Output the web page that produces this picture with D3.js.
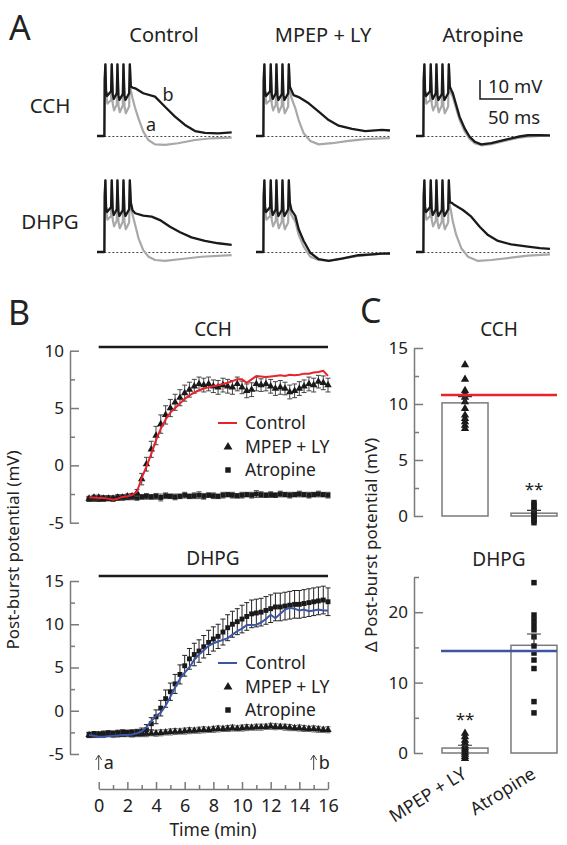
<!DOCTYPE html>
<html><head><meta charset="utf-8">
<script src="https://cdn.jsdelivr.net/npm/d3@7/dist/d3.min.js"></script>
<style>
html,body{margin:0;padding:0;background:#fff}
svg text{font-family:'Noto Sans','Open Sans',sans-serif;fill:#222}
</style></head><body>
<svg id="fig" width="567" height="845"></svg>
<script>
// ---------------- Panel A data (ms, mV relative to baseline) ----------------
const burstBlack = [[0,0],[11,0],[11.5,30],[12.5,37.7],[13.5,24],[15,21],[21,23.5],[22,37.7],[23.5,22],[25,19.5],[29.5,22.5],[30.5,37.7],[32,21.5],[33.5,19],[38.5,22],[39.5,37.7],[41,21.5],[42.5,19],[48,22.5],[49,37.7],[50.5,26]];
const burstGray  = [[0,0],[11,0],[11.5,28],[12.5,37.7],[13.5,22],[15.5,17],[21,19],[22,37.7],[23.5,17],[25.5,13.5],[29.5,16.5],[30.5,37.7],[32,16],[34,12.5],[38.5,16],[39.5,37.7],[41,15.5],[43,12],[48,15.5],[49,37.7],[50.5,24]];
const cchCtrlBlack = [[53,25.5],[57,25.1],[69,22.5],[86.6,20.7],[101.5,15.4],[116.4,10.2],[131.3,5.8],[146.3,2.6],[161,1.6],[180.6,1.4],[201,1.9]];
const cchCtrlGray  = [[53,20],[56.7,15],[61.6,9.5],[69.1,2.3],[76.6,-2.1],[86.6,-4.4],[101.5,-4.7],[120.9,-3.8],[146.3,-2.1],[171.2,-1.2],[201,-0.9]];
const cchMpepBlack = [[53,24],[56,21.5],[63.7,20.5],[78.7,17.2],[93.6,12.8],[108.5,8.4],[123.4,5.4],[143.3,3.7],[163.1,2.6],[188,3.2],[200,2.9]];
const cchMpepGray  = [[53,20],[58.7,14.6],[63.7,8.4],[71.2,1.4],[81,-2.6],[93.6,-4.4],[113.4,-3.8],[138.4,-2.6],[163.1,-1.6],[188,-1.2],[200,-1.1]];
const cchAtrBlack  = [[53,24],[55,22.5],[60,16.3],[65,10.2],[72.6,4],[80,-0.4],[87.6,-3],[97.5,-4.4],[112.4,-3.8],[132.4,-2.1],[152,-0.4],[167,0.4],[185,0.4],[200,0.3]];
const cchAtrGray   = [[53,22],[55,20.5],[60,14.5],[65,8.5],[72.6,2.5],[80,-1.5],[87.6,-3.8],[97.5,-4.9],[112.4,-4.3],[132.4,-2.6],[152,-1],[167,-0.3],[185,0],[200,0]];
const dhpgCtrlBlack = [[53,22],[57,20.4],[69,19.1],[81.6,18.6],[94,16.8],[109,13.3],[124,10.4],[141,7.7],[161,5.8],[181,4.6],[201,3.7]];
const dhpgCtrlGray  = [[52,21.2],[57,14.2],[62,7.2],[69,1.0],[77,-2.5],[86.6,-4.2],[101.5,-4.7],[126,-3.7],[156,-2.5],[201,-1.6]];
const dhpgMpepBlack = [[53,22],[58.7,19],[63.7,12],[71.2,5.8],[81,-0.4],[93.6,-3.8],[108.5,-4.7],[128,-3.5],[153,-1.7],[173,-1.2],[188,-0.9],[200,-0.8]];
const dhpgMpepGray  = [[52,20],[58.7,16],[63.7,9],[71.2,2.8],[81,-2.5],[93.6,-4.2],[108.5,-4.6],[128,-3.5],[153,-2],[188,-0.9],[200,-0.8]];
const dhpgAtrBlack  = [[53,26],[57.7,24.7],[70,22.1],[82.5,18.6],[95,13.3],[107.5,8.9],[122.4,5.8],[142,4.0],[167,2.8],[185,2.0],[200,1.6]];
const dhpgAtrGray   = [[52,22],[55,16],[60,9],[67.6,2],[77.6,-2.5],[92.5,-4.7],[112.4,-4.2],[142,-3],[167,-1.9],[200,-1.3]];
const colTitles = ['Control','MPEP + LY','Atropine'];
const rowTitles = ['CCH','DHPG'];

// ---------------- Panel B data ----------------
const times = [-0.67,-0.33,0,0.33,0.67,1,1.33,1.67,2,2.33,
 2.67,3,3.33,3.67,4,4.33,4.67,5,5.33,5.67,
 6,6.33,6.67,7,7.33,7.67,8,8.33,8.67,9,
 9.33,9.67,10,10.33,10.67,11,11.33,11.67,12,12.33,
 12.67,13,13.33,13.67,14,14.33,14.67,15,15.33,15.67,16];
const cchControl = [-2.8,-2.8,-2.85,-2.85,-2.9,-3.0,-2.9,-2.75,-2.7,-2.6,
 -2.3,-1.1,-0.1,1.0,2.2,3.2,4.0,4.6,5.0,5.4,
 5.8,6.1,6.35,6.55,6.7,6.8,6.9,7.0,7.1,7.2,
 7.35,7.5,7.5,7.2,7.5,7.8,7.75,7.7,7.75,7.8,
 7.85,7.8,7.9,7.85,7.9,8.0,8.0,8.1,8.15,8.25,7.8];
const cchMpep = [-2.9,-2.8,-2.8,-2.9,-2.9,-2.9,-2.8,-2.8,-2.7,-2.7,
 -2.4,-1.2,0.1,1.4,2.6,3.6,4.4,5.0,5.5,5.9,
 6.3,6.6,6.9,7.1,7.0,7.1,6.9,6.8,7.0,6.9,
 6.8,7.1,6.8,6.5,6.6,7.1,7.0,7.1,6.9,6.7,
 6.8,6.7,6.4,6.5,6.7,6.9,7.1,7.0,7.3,7.2,7.0];
const cchMpepErr = [0.2,0.2,0.2,0.25,0.2,0.2,0.25,0.2,0.2,0.25,
 0.3,0.5,0.6,0.7,0.8,0.8,0.8,0.75,0.7,0.7,
 0.7,0.65,0.6,0.6,0.6,0.6,0.55,0.6,0.6,0.6,
 0.6,0.6,0.55,0.6,0.6,0.6,0.55,0.6,0.6,0.6,
 0.6,0.55,0.6,0.6,0.6,0.55,0.6,0.6,0.55,0.6,0.6];
const cchAtr = [-2.95,-2.9,-2.95,-2.9,-2.85,-2.9,-2.85,-2.8,-2.8,-2.75,
 -2.8,-2.75,-2.7,-2.75,-2.7,-2.8,-2.65,-2.7,-2.75,-2.7,
 -2.6,-2.7,-2.65,-2.6,-2.7,-2.6,-2.65,-2.7,-2.6,-2.55,
 -2.6,-2.65,-2.6,-2.55,-2.6,-2.5,-2.55,-2.6,-2.55,-2.6,
 -2.5,-2.55,-2.6,-2.55,-2.5,-2.55,-2.6,-2.55,-2.5,-2.55,-2.6];
const cchAtrErr = [0.2,0.25,0.2,0.25,0.2,0.25,0.2,0.25,0.2,0.25,
 0.25,0.2,0.25,0.2,0.25,0.3,0.25,0.2,0.25,0.2,
 0.25,0.2,0.25,0.3,0.25,0.2,0.25,0.2,0.25,0.2,
 0.25,0.2,0.25,0.2,0.25,0.3,0.25,0.2,0.25,0.2,
 0.25,0.2,0.25,0.2,0.25,0.2,0.25,0.2,0.25,0.2,0.25];
const dhpgControl = [-2.8,-2.9,-3.0,-3.0,-2.95,-2.9,-2.85,-2.8,-2.8,-2.75,
 -2.6,-2.4,-1.9,-1.2,-0.6,-0.2,0.6,1.6,2.7,3.7,
 4.4,5.0,5.9,6.5,7.0,7.5,7.8,8.0,8.2,8.4,
 8.8,9.2,9.5,9.9,9.9,9.95,10.2,10.6,11.1,10.7,
 11.2,11.7,11.9,11.8,11.6,11.7,11.5,11.6,11.7,11.6,11.6];
const dhpgMpep = [-2.8,-2.85,-2.8,-2.8,-2.75,-2.8,-2.75,-2.75,-2.7,-2.75,
 -2.7,-2.7,-2.65,-2.6,-2.6,-2.55,-2.5,-2.45,-2.4,-2.4,
 -2.35,-2.3,-2.3,-2.25,-2.2,-2.2,-2.15,-2.1,-2.1,-2.05,
 -2.0,-2.05,-2.0,-1.95,-1.95,-1.9,-1.9,-1.85,-1.8,-1.85,
 -1.85,-1.9,-1.95,-2.0,-2.0,-2.05,-2.1,-2.1,-2.15,-2.2,-2.2];
const dhpgMpepErr = [0.3,0.25,0.3,0.3,0.25,0.3,0.3,0.25,0.3,0.3,
 0.3,0.3,0.35,0.3,0.35,0.35,0.3,0.35,0.35,0.3,
 0.35,0.35,0.3,0.35,0.35,0.3,0.35,0.35,0.3,0.35,
 0.35,0.3,0.35,0.35,0.3,0.35,0.35,0.3,0.35,0.35,
 0.3,0.35,0.35,0.3,0.35,0.35,0.3,0.35,0.35,0.3,0.35];
const dhpgAtr = [-2.8,-2.7,-2.7,-2.65,-2.6,-2.6,-2.55,-2.5,-2.5,-2.5,
 -2.45,-2.4,-2.2,-1.5,-0.7,0.3,1.4,2.2,3.1,4.2,
 5.2,6.0,6.5,6.9,7.4,7.9,8.3,8.6,9.1,9.6,
 10.0,10.3,10.6,10.9,11.2,11.3,11.4,11.6,11.8,12.0,
 12.0,12.1,12.2,12.3,12.3,12.4,12.5,12.6,12.7,12.8,12.6];
const dhpgAtrErr = [0.3,0.3,0.25,0.3,0.3,0.25,0.3,0.3,0.25,0.3,
 0.3,0.4,0.6,0.7,0.8,0.9,1.0,1.0,1.1,1.1,
 1.2,1.2,1.3,1.3,1.3,1.4,1.4,1.4,1.5,1.5,
 1.5,1.5,1.6,1.6,1.6,1.6,1.6,1.6,1.6,1.6,
 1.6,1.6,1.6,1.6,1.6,1.6,1.6,1.6,1.6,1.6,1.6];
const timeTicks = [0,2,4,6,8,10,12,14,16];
const timeMinor = [1,3,5,7,9,11,13,15];
const arrowTimes = [0,15];
const arrowLabels = ['a','b'];
const legendLabels = ['Control','MPEP + LY','Atropine'];

// ---------------- Panel C data ----------------
const groups = ['MPEP + LY','Atropine'];
const cchMpepPts = [13.5,12.2,11.2,10.9,10.6,10.2,9.6,9.0,8.7,8.4,8.1,7.8];
const cchAtrPts  = [1.2,1.0,0.7,0.5,0.3,0.1,0,-0.2,-0.4,-0.6];
const cchMeans = [10.1,0.25];
const cchSem = [0.55,0.25];
const cchControlMean = 10.8;
const dhpgMpepPts = [2.8,2.3,1.8,1.4,1.0,0.7,0.4,0.1,-0.2,-0.5,-0.8];
const dhpgAtrPts  = [24.2,19.6,18.9,18.2,17.5,16.5,15.2,14.2,13.2,12.0,7.3,5.7];
const dhpgMeans = [0.7,15.3];
const dhpgSem = [0.4,1.6];
const dhpgControlMean = 14.5;

// ---------------- drawing ----------------
const svg = d3.select('#fig');
const FONT = "'Noto Sans','Open Sans',sans-serif";
const AX = '#7a7a7a', INK = '#1a1a1a', RED = '#e8232b', BLUE = '#3c55a5';

function txt(x, y, s, size, anchor, extra) {
  const t = svg.append('text').attr('x', x).attr('y', y).text(s)
    .attr('font-size', size).attr('text-anchor', anchor || 'start');
  if (extra) extra(t);
  return t;
}

// Panel letters
txt(9, 40, 'A', 34);
txt(8, 325, 'B', 34);
txt(360, 323, 'C', 34);

// ---- Panel A ----
const colX = [97, 256, 416];
const rowBase = [136, 252];
const traceW = 134;
const traceSets = [
  {r:0,c:0,b:cchCtrlBlack,g:cchCtrlGray},{r:0,c:1,b:cchMpepBlack,g:cchMpepGray},{r:0,c:2,b:cchAtrBlack,g:cchAtrGray},
  {r:1,c:0,b:dhpgCtrlBlack,g:dhpgCtrlGray},{r:1,c:1,b:dhpgMpepBlack,g:dhpgMpepGray},{r:1,c:2,b:dhpgAtrBlack,g:dhpgAtrGray}];
colTitles.forEach((s,i)=>txt(colX[i]+traceW/2, 42, s, 20, 'middle'));
rowTitles.forEach((s,i)=>txt(50, rowBase[i]-23, s, 20.5, 'middle'));
traceSets.forEach(ts=>{
  const x = d3.scaleLinear().domain([0,200]).range([colX[ts.c], colX[ts.c]+traceW]);
  const y = d3.scaleLinear().domain([0,10]).range([rowBase[ts.r], rowBase[ts.r]-19]);
  svg.append('line').attr('x1', x(11)).attr('x2', x(200)).attr('y1', y(0)+0.5).attr('y2', y(0)+0.5)
    .attr('stroke','#444').attr('stroke-width',1).attr('stroke-dasharray','2,2');
  const ln = d3.line().x(d=>x(d[0])).y(d=>y(d[1]));
  svg.append('path').datum(burstGray.concat(ts.g)).attr('d', ln).attr('fill','none')
    .attr('stroke','#a8a8a8').attr('stroke-width',2.2).attr('stroke-linejoin','round');
  svg.append('path').datum(burstBlack.concat(ts.b)).attr('d', ln).attr('fill','none')
    .attr('stroke',INK).attr('stroke-width',2.3).attr('stroke-linejoin','round');
});
txt(168, 101, 'b', 18, 'middle');
txt(151, 131, 'a', 18, 'middle');
// scale bar
svg.append('path').attr('d','M480,80V99H513').attr('fill','none').attr('stroke',INK).attr('stroke-width',1.5);
txt(488, 93, '10 mV', 18.5);
txt(488, 124, '50 ms', 18.5);

// ---- Panel B ----
const xB = d3.scaleLinear().domain([0,16]).range([98.7, 328]);
const yB1 = d3.scaleLinear().domain([-5,10]).range([522.7, 350.7]);
const yB2 = d3.scaleLinear().domain([-5,15]).range([754, 581]);

function styleAxis(g) {
  g.attr('font-family', FONT).attr('font-size', 17);
  g.selectAll('.domain').attr('stroke', AX).attr('stroke-width', 1.5);
  g.selectAll('.tick line').attr('stroke', AX).attr('stroke-width', 1.5);
  g.selectAll('.tick text').attr('fill', '#222');
}
function yAxis(scale, major, minor, x) {
  const g = svg.append('g').attr('transform', `translate(${x},0)`)
    .call(d3.axisLeft(scale).tickValues(major).tickSizeInner(-9).tickSizeOuter(0).tickPadding(6).tickFormat(d=>String(d)));
  styleAxis(g);
  const g2 = svg.append('g').attr('transform', `translate(${x},0)`)
    .call(d3.axisLeft(scale).tickValues(minor).tickSizeInner(-5).tickSizeOuter(0).tickFormat(''));
  styleAxis(g2); g2.select('.domain').remove();
}
yAxis(yB1, [-5,0,5,10], [-2.5,2.5,7.5], 70);
yAxis(yB2, [-5,0,5,10,15], [-2.5,2.5,7.5,12.5], 70);
{
  const g = svg.append('g').attr('transform','translate(0,789)')
    .call(d3.axisBottom(xB).tickValues(timeTicks).tickSizeInner(-7).tickSizeOuter(0).tickPadding(10).tickFormat(d=>String(d)));
  styleAxis(g);
  g.selectAll('.tick text').attr('font-size', 18);
  const g2 = svg.append('g').attr('transform','translate(0,789)')
    .call(d3.axisBottom(xB).tickValues(timeMinor).tickSizeInner(-4).tickSizeOuter(0).tickFormat(''));
  styleAxis(g2); g2.select('.domain').remove();
}
txt(213, 836, 'Time (min)', 17.5, 'middle');
txt(19, 550, 'Post-burst potential (mV)', 17, 'middle', t=>t.attr('transform','rotate(-90,19,550)'));

// drug bars & titles
[[347, 336, 'CCH'], [576, 565, 'DHPG']].forEach(([yl, yt, s])=>{
  svg.append('line').attr('x1', xB(0)).attr('x2', xB(16)).attr('y1', yl).attr('y2', yl)
    .attr('stroke', INK).attr('stroke-width', 2.5);
  txt(213, yt, s, 19, 'middle');
});

const tri = d3.symbol().type(d3.symbolTriangle).size(24);
const sq = d3.symbol().type(d3.symbolSquare).size(24);

function errBars(vals, errs, y, color) {
  const g = svg.append('g').attr('stroke', color).attr('stroke-width', 1).attr('fill','none');
  vals.forEach((v,i)=>{
    const x = xB(times[i]);
    g.append('path').attr('d', `M${x},${y(v-errs[i])}V${y(v+errs[i])}M${x-2.5},${y(v+errs[i])}h5M${x-2.5},${y(v-errs[i])}h5`);
  });
}
function markers(vals, y, sym) {
  svg.append('g').selectAll('path').data(vals).join('path')
    .attr('d', sym).attr('transform', (v,i)=>`translate(${xB(times[i])},${y(v)})`).attr('fill', INK);
}
function ctrlLine(vals, y, color) {
  svg.append('path').datum(vals).attr('fill','none').attr('stroke', color).attr('stroke-width', 2)
    .attr('d', d3.line().x((v,i)=>xB(times[i])).y(v=>y(v)));
}
// top (CCH)
errBars(cchAtr, cchAtrErr, yB1, '#555');
markers(cchAtr, yB1, sq);
errBars(cchMpep, cchMpepErr, yB1, '#444');
markers(cchMpep, yB1, tri);
ctrlLine(cchControl, yB1, RED);
// bottom (DHPG)
errBars(dhpgMpep, dhpgMpepErr, yB2, '#666');
markers(dhpgMpep, yB2, tri);
errBars(dhpgAtr, dhpgAtrErr, yB2, '#222');
markers(dhpgAtr, yB2, sq);
ctrlLine(dhpgControl, yB2, BLUE);

// legends
function legend(y0, color) {
  svg.append('line').attr('x1',218).attr('x2',237).attr('y1',y0).attr('y2',y0).attr('stroke',color).attr('stroke-width',2);
  svg.append('path').attr('d', d3.symbol().type(d3.symbolTriangle).size(34)).attr('transform',`translate(228,${y0+24})`).attr('fill',INK);
  svg.append('path').attr('d', d3.symbol().type(d3.symbolSquare).size(30)).attr('transform',`translate(228,${y0+47})`).attr('fill',INK);
  legendLabels.forEach((s,i)=>txt(245, y0+6+i*23.5, s, 17.5));
}
legend(423, RED);
legend(663, BLUE);

// arrows a / b
arrowTimes.forEach((t,i)=>{
  const x = xB(t);
  svg.append('path').attr('d', `M${x},770V756M${x-3},760L${x},755L${x+3},760`).attr('fill','none')
    .attr('stroke','#444').attr('stroke-width',1);
  txt(x+5, 769, arrowLabels[i], 18);
});

// ---- Panel C ----
const xC = d3.scaleBand().domain(groups).range([428.2, 570.8]).paddingInner(0.333).paddingOuter(0.2);
const yC1 = d3.scaleLinear().domain([0,15]).range([516,348]);
const yC2 = d3.scaleLinear().domain([0,25]).range([753,577]);
yAxis(yC1, [0,5,10,15], [2.5,7.5,12.5], 414);
yAxis(yC2, [0,10,20], [5,15,25], 414);
txt(499, 336, 'CCH', 19, 'middle');
txt(499, 566, 'DHPG', 19, 'middle');
txt(377, 545, '\u0394 Post-burst potential (mV)', 17, 'middle', t=>t.attr('transform','rotate(-90,377,545)'));

function barPanel(y, means, sems, pts, ctrlMean, ctrlColor, starIdx) {
  const bw = xC.bandwidth();
  svg.append('g').selectAll('rect').data(means).join('rect')
    .attr('x', (m,i)=>xC(groups[i])).attr('width', bw)
    .attr('y', m=>y(m)).attr('height', m=>y(0)-y(m))
    .attr('fill','#fff').attr('stroke', AX).attr('stroke-width', 1.5);
  pts.forEach((arr, gi)=>{
    const cx = xC(groups[gi]) + bw/2;
    svg.append('g').selectAll('path').data(arr).join('path')
      .attr('d', gi===0 ? d3.symbol().type(d3.symbolTriangle).size(30) : d3.symbol().type(d3.symbolSquare).size(30))
      .attr('transform', v=>`translate(${cx},${y(v)})`).attr('fill', INK);
  });
  means.forEach((m,i)=>{
    const cx = xC(groups[i]) + bw/2;
    svg.append('path').attr('d', `M${cx},${y(m)}V${y(m+sems[i])}M${cx-7},${y(m+sems[i])}h14`)
      .attr('stroke', '#333').attr('stroke-width', 1.2).attr('fill','none');
  });
  svg.append('line').attr('x1', xC(groups[0])-1).attr('x2', xC(groups[1])+bw)
    .attr('y1', y(ctrlMean)).attr('y2', y(ctrlMean)).attr('stroke', ctrlColor).attr('stroke-width', 2.5);
  const sx = xC(groups[starIdx]) + bw/2;
  const top = Math.max(...pts[starIdx]);
  txt(sx, y(top) - 8, '**', 17, 'middle', t=>t.attr('fill','#555'));
}
barPanel(yC1, cchMeans, cchSem, [cchMpepPts, cchAtrPts], cchControlMean, RED, 1);
barPanel(yC2, dhpgMeans, dhpgSem, [dhpgMpepPts, dhpgAtrPts], dhpgControlMean, BLUE, 0);

// rotated category labels
groups.forEach((s,i)=>{
  const ex = xC(s) + xC.bandwidth()/2 + 3;
  txt(ex, 777, s, 18, 'end', t=>t.attr('transform', `rotate(-32,${ex},777)`));
});
</script></body></html>
